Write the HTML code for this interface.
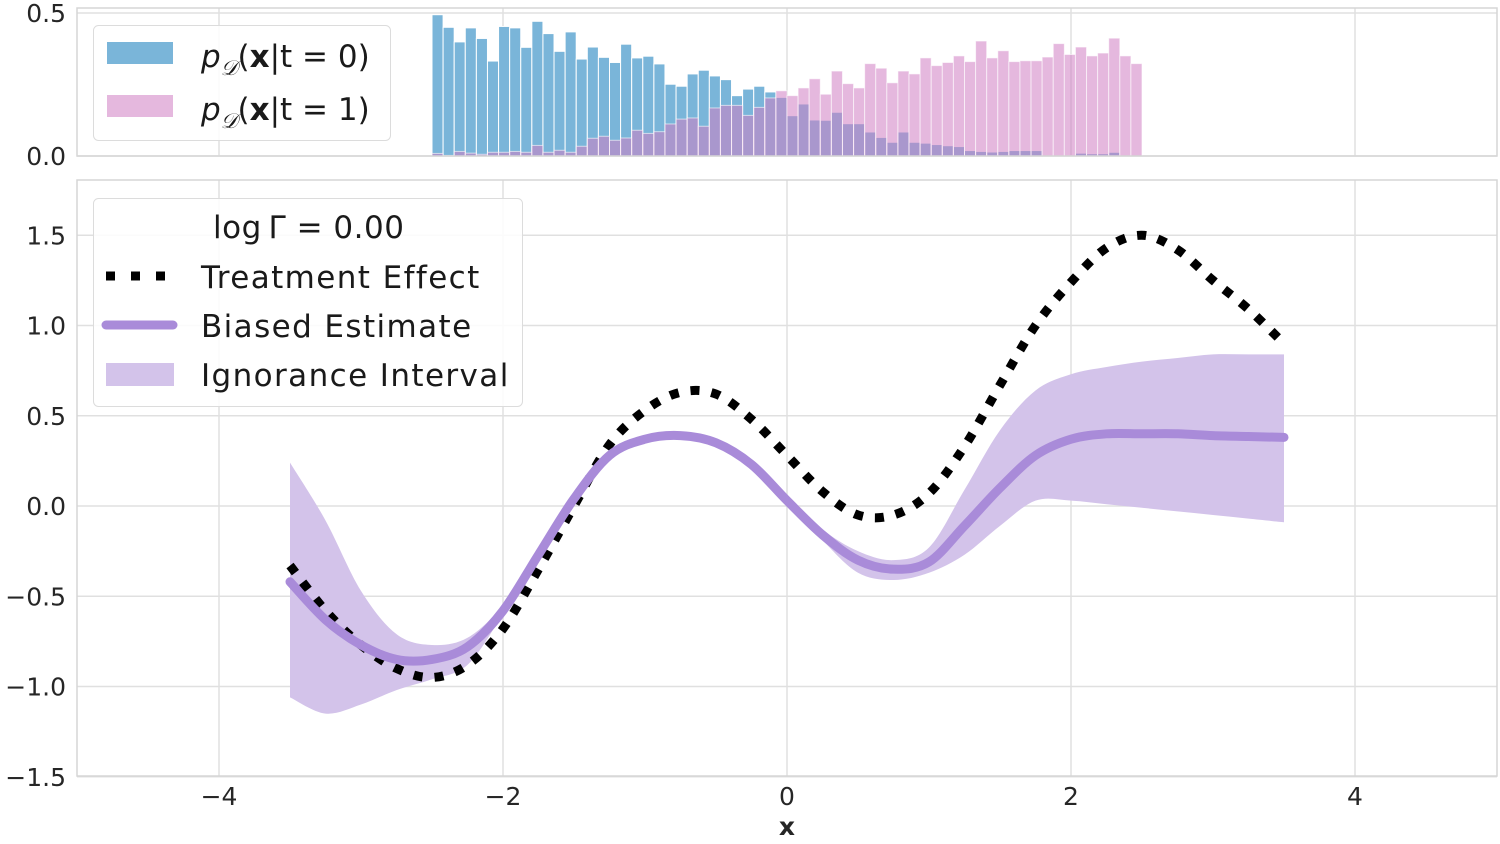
<!DOCTYPE html>
<html><head><meta charset="utf-8"><style>
html,body{margin:0;padding:0;background:#fff;}
svg{display:block;font-family:"DejaVu Sans","Liberation Sans",sans-serif;}
</style></head><body>
<svg id="chart" width="1500" height="844" viewBox="0 0 1500 844" xmlns="http://www.w3.org/2000/svg"></svg>
<script>
// ---- data ----
const histBinStart = -2.5;
const histBinEnd = 2.5;
const histT0 = [0.494,0.450,0.399,0.448,0.411,0.332,0.453,0.448,0.380,0.471,0.428,0.366,0.434,0.339,0.381,0.345,0.327,0.391,0.343,0.349,0.322,0.251,0.244,0.287,0.300,0.280,0.267,0.211,0.234,0.244,0.224,0.205,0.141,0.182,0.126,0.125,0.153,0.113,0.113,0.084,0.065,0.048,0.084,0.048,0.045,0.040,0.036,0.033,0.019,0.016,0.014,0.016,0.019,0.019,0.019,0,0,0,0.010,0.008,0.008,0.013,0,0];
const histT1 = [0.009,0.002,0.016,0.010,0.006,0.013,0.013,0.016,0.013,0.037,0.013,0.020,0.013,0.034,0.062,0.069,0.055,0.063,0.090,0.079,0.085,0.112,0.129,0.133,0.104,0.168,0.177,0.177,0.142,0.170,0.203,0.228,0.211,0.238,0.270,0.216,0.297,0.253,0.238,0.323,0.307,0.256,0.297,0.287,0.343,0.316,0.327,0.350,0.330,0.402,0.343,0.368,0.330,0.333,0.333,0.346,0.393,0.355,0.381,0.350,0.360,0.412,0.350,0.323];
const curveX = [-3.5,-3.25,-3.0,-2.75,-2.5,-2.25,-2.0,-1.75,-1.5,-1.25,-1.0,-0.75,-0.5,-0.25,0,0.25,0.5,0.75,1.0,1.25,1.5,1.75,2.0,2.25,2.5,2.75,3.0,3.25,3.5];
const treatment = [-0.33,-0.58,-0.77,-0.90,-0.95,-0.88,-0.68,-0.35,0.0,0.34,0.53,0.63,0.62,0.48,0.28,0.08,-0.05,-0.05,0.07,0.33,0.67,1.0,1.24,1.43,1.50,1.42,1.25,1.09,0.90];
const biased = [-0.42,-0.63,-0.77,-0.85,-0.85,-0.78,-0.58,-0.27,0.04,0.28,0.37,0.39,0.35,0.23,0.03,-0.16,-0.30,-0.35,-0.31,-0.11,0.10,0.28,0.37,0.40,0.40,0.40,0.39,0.385,0.38];
const upper = [0.24,-0.08,-0.47,-0.71,-0.77,-0.73,-0.55,-0.26,0.05,0.30,0.39,0.41,0.37,0.25,0.05,-0.13,-0.25,-0.30,-0.23,0.09,0.42,0.64,0.73,0.77,0.80,0.82,0.84,0.84,0.84];
const lower = [-1.06,-1.15,-1.10,-1.02,-0.96,-0.88,-0.60,-0.29,0.03,0.26,0.35,0.37,0.33,0.21,0.02,-0.19,-0.37,-0.41,-0.37,-0.27,-0.11,0.03,0.03,0.01,-0.01,-0.03,-0.05,-0.07,-0.09];
const xTicks = [-4,-2,0,2,4];
const yTicks = [-1.5,-1.0,-0.5,0.0,0.5,1.0,1.5];
const yTickLabels = ["\u22121.5","\u22121.0","\u22120.5","0.0","0.5","1.0","1.5"];
const histYTicks = [0.0,0.5];
const histYTickLabels = ["0.0","0.5"];

// ---- scales ----
const L=77,R=1497;
const sx = v => 787 + (v)*(R-L)/10;
const mTop=180,mBot=776;
const sy = v => 506 - v*180.5;
const hTop=8,hBot=156;
const hy = v => hBot - v*286;

const svg=document.getElementById('chart');
const NS='http://www.w3.org/2000/svg';
function mk(tag,attrs,parent){const e=document.createElementNS(NS,tag);for(const k in attrs)e.setAttribute(k,attrs[k]);(parent||svg).appendChild(e);return e;}

// ---- hist axes ----
const gH=mk('g',{});


xTicks.forEach(t=>{const l=mk('line',{x1:sx(t),x2:sx(t),y1:hTop,y2:hBot,stroke:'#e0e0e0','stroke-width':1.5},gH);});
histYTicks.forEach((t,i)=>{const l=mk('line',{x1:L,x2:R,y1:hy(t),y2:hy(t),stroke:'#e0e0e0','stroke-width':1.5},gH);
 const tx=mk('text',{x:66,y:hy(t)+9,'font-size':25,'text-anchor':'end',fill:'#262626'},gH);tx.textContent=histYTickLabels[i];});
const n=histT0.length, bw=(histBinEnd-histBinStart)/n;
histT0.forEach((v,i)=>{if(v<=0)return;const x0=sx(histBinStart+i*bw),x1=sx(histBinStart+(i+1)*bw);
 const r=mk('rect',{x:x0,y:hy(v),width:x1-x0,height:hBot-hy(v),fill:'#7ab5d9',stroke:'#fff','stroke-width':1},gH);
 });
histT1.forEach((v,i)=>{if(v<=0)return;const x0=sx(histBinStart+i*bw),x1=sx(histBinStart+(i+1)*bw);
 const r=mk('rect',{x:x0,y:hy(v),width:x1-x0,height:hBot-hy(v),fill:'rgb(208,126,195)','fill-opacity':0.55,stroke:'#fff','stroke-opacity':0.6,'stroke-width':1},gH);
 });
mk('rect',{x:L,y:hTop,width:R-L,height:hBot-hTop,fill:'none',stroke:'#d6d6d6','stroke-width':1.5},gH);

// legend 1
const lg1=mk('g',{});


mk('rect',{x:93.5,y:25.5,width:297,height:115,rx:5,fill:'#fff','fill-opacity':0.85,stroke:'#dcdcdc','stroke-width':1},lg1);
mk('rect',{x:107,y:42,width:66,height:22,fill:'#7ab5d9'},lg1);
mk('rect',{x:107,y:95,width:66,height:22,fill:'#e5b8de'},lg1);
[[0,67],[1,120]].forEach(([k,y])=>{const t=mk('text',{x:201,y:y,'font-size':31,fill:'#1a1a1a'},lg1);
 
 t.innerHTML='<tspan font-style="italic">p</tspan><tspan font-size="21" font-style="italic" font-family="Liberation Serif,serif" dy="8">\uD835\uDC9F</tspan><tspan dy="-8">(</tspan><tspan font-weight="bold">x</tspan><tspan>|t = '+k+')</tspan>';});

// ---- main axes ----
const gM=mk('g',{});


xTicks.forEach(t=>{const l=mk('line',{x1:sx(t),x2:sx(t),y1:mTop,y2:mBot,stroke:'#e0e0e0','stroke-width':1.5},gM);
 const tx=mk('text',{x:sx(t),y:805,'font-size':25,'text-anchor':'middle',fill:'#262626'},gM);tx.textContent=(t<0?'\u2212'+(-t):String(t));});
yTicks.forEach((t,i)=>{const l=mk('line',{x1:L,x2:R,y1:sy(t),y2:sy(t),stroke:'#e0e0e0','stroke-width':1.5},gM);
 const tx=mk('text',{x:66,y:sy(t)+9,'font-size':25,'text-anchor':'end',fill:'#262626'},gM);tx.textContent=yTickLabels[i];});
mk('rect',{x:L,y:mTop,width:R-L,height:mBot-mTop,fill:'none',stroke:'#d6d6d6','stroke-width':1.5},gM);
const xl=mk('text',{x:787,y:835,'font-size':25,'font-weight':'bold','text-anchor':'middle',fill:'#262626'},gM);xl.textContent='x';


function spline(xs,ys){const p=xs.map((x,i)=>[sx(x),sy(ys[i])]);let d='M'+p[0][0]+','+p[0][1];
 for(let i=0;i<p.length-1;i++){const p0=p[Math.max(0,i-1)],p1=p[i],p2=p[i+1],p3=p[Math.min(p.length-1,i+2)];
  const c1=[p1[0]+(p2[0]-p0[0])/6,p1[1]+(p2[1]-p0[1])/6],c2=[p2[0]-(p3[0]-p1[0])/6,p2[1]-(p3[1]-p1[1])/6];
  d+=' C'+c1[0]+','+c1[1]+' '+c2[0]+','+c2[1]+' '+p2[0]+','+p2[1];}return d;}
function splineRev(xs,ys){return spline(xs.slice().reverse(),ys.slice().reverse()).replace(/^M/,'L');}
const band=mk('path',{d:spline(curveX,upper)+' '+splineRev(curveX,lower)+' Z',fill:'#d3c3ea',stroke:'none'},gM);

const te=mk('path',{d:spline(curveX,treatment),fill:'none',stroke:'#000','stroke-width':9,'stroke-dasharray':'9 12'},gM);

const be=mk('path',{d:spline(curveX,biased),fill:'none',stroke:'#a98bd9','stroke-width':9,'stroke-linecap':'round'},gM);


// legend 2
const lg2=mk('g',{});


mk('rect',{x:93.5,y:198.5,width:429,height:208,rx:5,fill:'#fff','fill-opacity':0.85,stroke:'#dcdcdc','stroke-width':1},lg2);
const tt=mk('text',{x:213,y:238,'font-size':31,fill:'#1a1a1a','letter-spacing':0.5},lg2);tt.textContent='log\u2009\u0393 = 0.00';

mk('line',{x1:106,x2:166,y1:276,y2:276,stroke:'#000','stroke-width':9,'stroke-dasharray':'9 16'},lg2);
mk('line',{x1:106,x2:173,y1:325,y2:325,stroke:'#a98bd9','stroke-width':9,'stroke-linecap':'round'},lg2);
mk('rect',{x:106,y:363,width:68,height:23,fill:'#d3c3ea'},lg2);
[['Treatment Effect',288,'legend-entry-treatment'],['Biased Estimate',337,'legend-entry-biased'],['Ignorance Interval',386,'legend-entry-interval']].forEach(([s,y,nm])=>{
 const t=mk('text',{x:201,y:y,'font-size':31,fill:'#1a1a1a','letter-spacing':1.4},lg2);t.textContent=s;
 
 });
</script>
</body></html>
